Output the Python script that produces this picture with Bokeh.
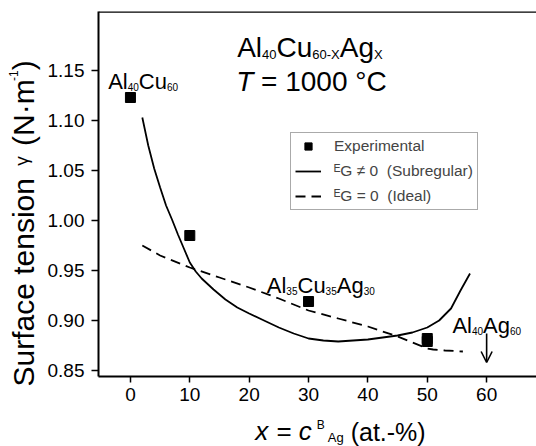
from bokeh.plotting import figure
from bokeh.models import (Label, Legend, LegendItem, Span, Arrow, OpenHead,
                          FixedTicker, PrintfTickFormatter, Range1d)
from bokeh.layouts import row, column
from bokeh.embed import file_html
from bokeh.resources import INLINE

# ---------------- data ----------------
exp_x = [0, 10, 30, 50, 50]
exp_y = [1.123, 0.985, 0.919, 0.882, 0.879]

sub_x = [2, 3, 4, 5, 6, 7, 8, 9, 10, 11, 12, 14, 16, 18, 20, 22.5, 25, 27.5,
         30, 32.5, 35, 37.5, 40, 42.5, 45, 47.5, 50, 52, 54, 55.6, 57.2]
sub_y = [1.103, 1.075, 1.052, 1.033, 1.015, 1.001, 0.986, 0.972, 0.958, 0.949,
         0.942, 0.931, 0.921, 0.913, 0.907, 0.900, 0.893, 0.887, 0.882, 0.880,
         0.879, 0.880, 0.881, 0.883, 0.885, 0.888, 0.893, 0.900, 0.912, 0.930,
         0.947]

ide_x = [2, 5, 10, 15, 20, 25, 30, 35, 40, 45, 50, 51, 53, 56]
ide_y = [0.975, 0.965, 0.953, 0.943, 0.933, 0.922, 0.910, 0.902, 0.894, 0.884,
         0.872, 0.871, 0.870, 0.869]

x_ticks = [0, 10, 20, 30, 40, 50, 60]
y_ticks = [0.85, 0.90, 0.95, 1.00, 1.05, 1.10, 1.15]

arrow_x = 60
arrow_y = [0.887, 0.858]

legend_labels = ["Experimental", "\u1d31G \u2260 0\u00a0 (Subregular)",
                 "\u1d31G = 0\u00a0 (Ideal)"]

# ---------------- layout ----------------
FONT = "Liberation Sans"
PAGE_W, PAGE_H = 536, 446
LW = 44            # width of the y-title strip
XH = 30            # height of the x-title strip
MW, MH = PAGE_W - LW, PAGE_H - XH
FL, FT, FR, FB = 97, 11, 536, 376   # frame edges in page pixels
BL, BT, BR, BB = FL - LW, FT, PAGE_W - FR, MH - FB
X0, X1 = -5.38, 68.4
Y0, Y1 = 0.844, 1.209
FW = FR - FL
FH = FB - FT
DESC = 0.212       # font descent (em) used to put text on its baseline


def at_main(X, Y):
    return (X0 + (X - FL) / FW * (X1 - X0), Y1 - (Y - FT) / FH * (Y1 - Y0))


def at_ylab(X, Y):
    return (X, PAGE_H - Y)


def at_xlab(X, Y):
    return (X - LW, XH - (Y - MH))


W = {' ': 278, '\u00a0': 278, '\u2002': 500, '(': 333, ')': 333, '-': 333, '.': 278,
     '%': 889, '=': 584, 'A': 667, 'B': 667, 'C': 722, 'E': 667, 'G': 778,
     'I': 278, 'N': 722, 'S': 667, 'T': 611, 'X': 667, 'a': 556, 'b': 556,
     'c': 500, 'd': 556, 'e': 556, 'f': 278, 'g': 556, 'i': 222, 'l': 222,
     'm': 833, 'n': 556, 'o': 556, 'p': 556, 'r': 333, 's': 500, 't': 278,
     'u': 556, 'x': 500, 'y': 500, '\u00b0': 400, '\u00b7': 278, '\u03b3': 500}


def tw(s, size):
    return sum(W.get(ch, 556) for ch in s) * size / 1000.0


def blank_fig(w, h):
    f = figure(width=w, height=h, output_backend="svg", toolbar_location=None,
               x_range=Range1d(0, w), y_range=Range1d(0, h),
               x_axis_type=None, y_axis_type=None, min_border=0)
    f.outline_line_color = None
    f.background_fill_color = "white"
    f.border_fill_color = "white"
    return f


p = figure(width=MW, height=MH, output_backend="svg", toolbar_location=None,
           x_range=Range1d(X0, X1), y_range=Range1d(Y0, Y1),
           min_border_left=BL, min_border_right=BR, min_border_top=BT,
           min_border_bottom=BB)
p.outline_line_color = None
p.xgrid.visible = False
p.ygrid.visible = False
p.background_fill_color = "white"
p.border_fill_color = "white"

for ax in (p.xaxis[0], p.yaxis[0]):
    ax.axis_line_width = 2
    ax.axis_line_color = "black"
    ax.major_tick_line_width = 1.5
    ax.major_tick_line_color = "black"
    ax.major_tick_in = 0
    ax.minor_tick_line_color = None
    ax.major_label_text_font = FONT
    ax.major_label_text_font_size = "19px"
    ax.major_label_text_color = "black"
p.xaxis[0].ticker = FixedTicker(ticks=x_ticks)
p.yaxis[0].ticker = FixedTicker(ticks=y_ticks)
p.yaxis[0].formatter = PrintfTickFormatter(format="%.2f")
p.xaxis[0].major_tick_out = 6
p.yaxis[0].major_tick_out = 7
p.xaxis[0].major_label_standoff = 5
p.yaxis[0].major_label_standoff = 7

p.add_layout(Span(location=Y1, dimension="width", line_color="black", line_width=2.5))

r_ide = p.line(ide_x, ide_y, line_color="black", line_width=1.8, line_dash="10 6")
r_sub = p.line(sub_x, sub_y, line_color="black", line_width=1.8)
r_exp = p.scatter(exp_x, exp_y, marker="square", size=10, fill_color="black",
                  line_color="black")

p.add_layout(Arrow(end=OpenHead(size=11, line_width=1.6, line_color="black"),
                   x_start=arrow_x, y_start=arrow_y[0], x_end=arrow_x,
                   y_end=arrow_y[1], line_width=1.6, line_color="black"))

# legend
legend = Legend(items=[LegendItem(label=legend_labels[0], renderers=[r_exp]),
                       LegendItem(label=legend_labels[1], renderers=[r_sub]),
                       LegendItem(label=legend_labels[2], renderers=[r_ide])],
                location=(192, 166), padding=4, spacing=7, margin=0,
                glyph_width=26, glyph_height=18, label_height=18,
                label_standoff=13, label_text_font=FONT,
                label_text_font_size="15.5px", border_line_color="#555555",
                border_line_width=1, background_fill_alpha=1.0)
p.add_layout(legend)


def rich(fig, conv, X, Y, parts, angle=0.0):
    x, y = conv(X, Y)
    pos = 0.0
    for part in parts:
        text, size = part["t"], part["s"]
        pos += part.get("dx", 0)
        dy = part.get("dy", 0) + DESC * size
        if angle == 0:
            xo, yo = pos, dy
        else:
            xo, yo = -dy, pos
        fig.add_layout(Label(x=x, y=y, x_offset=xo, y_offset=yo, text=text,
                             angle=angle, angle_units="deg",
                             text_font=FONT, text_font_size=f"{size}px",
                             text_font_style=part.get("st", "normal"),
                             text_color="black", text_baseline="alphabetic",
                             text_align="left"))
        if part.get("adv", True):
            pos += tw(text, size)


# title
rich(p, at_main, 236, 53.3,
     [{"t": "Al", "s": 28}, {"t": "40", "s": 13, "dy": -3.5},
      {"t": "Cu", "s": 28}, {"t": "60-X", "s": 13, "dy": -3.5},
      {"t": "Ag", "s": 28}, {"t": "X", "s": 13, "dy": -3.5}])
rich(p, at_main, 235, 86.7,
     [{"t": "T", "s": 28, "st": "italic"},
      {"t": "\u00a0= 1000 \u00b0C", "s": 28}])

# point annotations
SUB = dict(s=10, dy=-3)
rich(p, at_main, 106.7, 86, [{"t": "Al", "s": 22}, {"t": "40", **SUB},
                             {"t": "Cu", "s": 22}, {"t": "60", **SUB}])
rich(p, at_main, 265.7, 290, [{"t": "Al", "s": 22}, {"t": "35", **SUB},
                              {"t": "Cu", "s": 22}, {"t": "35", **SUB},
                              {"t": "Ag", "s": 22}, {"t": "30", **SUB}])
rich(p, at_main, 451.7, 330, [{"t": "Al", "s": 22}, {"t": "40", **SUB},
                              {"t": "Ag", "s": 22}, {"t": "60", **SUB}])

# x axis title strip
xlab = blank_fig(MW, XH)
rich(xlab, at_xlab, 220, 436.5,
     [{"t": "x", "s": 26, "st": "italic"},
      {"t": "\u00a0=\u00a0", "s": 26, "dx": 1},
      {"t": "c", "s": 26, "st": "italic"},
      {"t": "B", "s": 12, "dy": 9, "dx": 5, "adv": False},
      {"t": "Ag", "s": 13, "dy": -3, "dx": 11},
      {"t": "\u00a0(at.-%)", "s": 25}])

# y axis title strip (rotated)
ylab = blank_fig(LW, PAGE_H)
rich(ylab, at_ylab, 29, 386,
     [{"t": "Surface tension\u00a0", "s": 30},
      {"t": "\u03b3", "s": 19, "dy": 4, "dx": 4},
      {"t": "\u00a0(N\u00b7m", "s": 30, "dx": 2},
      {"t": "-1", "s": 12, "dy": 13},
      {"t": ")", "s": 30}], angle=90)

layout = row(ylab, column(p, xlab, spacing=0), spacing=0)
open("out.html", "w").write(file_html(layout, INLINE))
